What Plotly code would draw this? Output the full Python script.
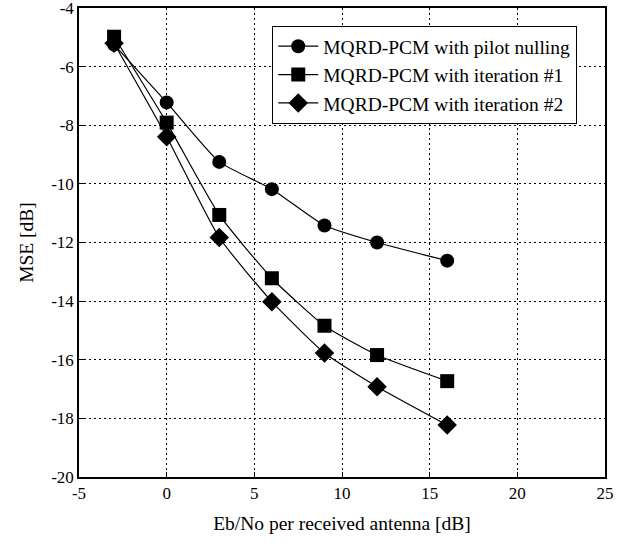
import plotly.graph_objects as go

x_vals = [-3, 0, 3, 6, 9, 12, 16]
pilot_nulling = [-5.25, -7.22, -9.25, -10.18, -11.42, -12.0, -12.62]
iteration_1 = [-4.98, -7.91, -11.06, -13.22, -14.84, -15.84, -16.73]
iteration_2 = [-5.2, -8.39, -11.83, -14.02, -15.77, -16.92, -18.23]

series_names = ["MQRD-PCM with pilot nulling", "MQRD-PCM with iteration #1", "MQRD-PCM with iteration #2"]
x_ticks = [-5, 0, 5, 10, 15, 20, 25]
y_ticks = [-20, -18, -16, -14, -12, -10, -8, -6, -4]

fig = go.Figure()
for name, ys, sym, sz in [
    (series_names[0], pilot_nulling, "circle", 14),
    (series_names[1], iteration_1, "square", 14),
    (series_names[2], iteration_2, "diamond", 15),
]:
    fig.add_trace(go.Scatter(
        x=x_vals, y=ys, name=name, mode="lines+markers",
        line=dict(color="black", width=1.2, shape="spline", smoothing=0.5),
        marker=dict(symbol=sym, size=sz, color="black"),
    ))

font = "Liberation Serif, Times New Roman, serif"
axis_common = dict(
    showline=True, linecolor="black", linewidth=1.5, mirror=True,
    showgrid=True, gridcolor="black", gridwidth=1.2, griddash="2px,3px",
    ticks="inside", ticklen=5, tickcolor="black", zeroline=False,
    tickfont=dict(family=font, size=17, color="black"),
    automargin=False, ticklabeloverflow="allow",
)
fig.update_xaxes(
    range=[-5, 25], tickvals=x_ticks, ticktext=[str(v) for v in x_ticks],
    title=dict(text="Eb/No per received antenna [dB]", font=dict(family=font, size=19.5, color="black"), standoff=14),
    **axis_common,
)
fig.update_yaxes(
    range=[-20, -4], tickvals=y_ticks, ticktext=[str(v) for v in y_ticks],
    title=dict(text="MSE [dB]", font=dict(family=font, size=19.5, color="black"), standoff=12),
    **axis_common,
)
fig.update_layout(
    width=624, height=545,
    margin=dict(l=79, r=19, t=8, b=68, autoexpand=False),
    plot_bgcolor="white", paper_bgcolor="white",
    font=dict(family=font, color="black"),
    legend=dict(
        x=0.367, y=0.962, xanchor="left", yanchor="top",
        bgcolor="white", bordercolor="black", borderwidth=1.2,
        font=dict(family=font, size=19.5, color="black"),
        tracegroupgap=0, itemwidth=40,
    ),
)
fig.write_html("out.html", config={"displayModeBar": False},
               post_script="document.body.style.margin='0';")
